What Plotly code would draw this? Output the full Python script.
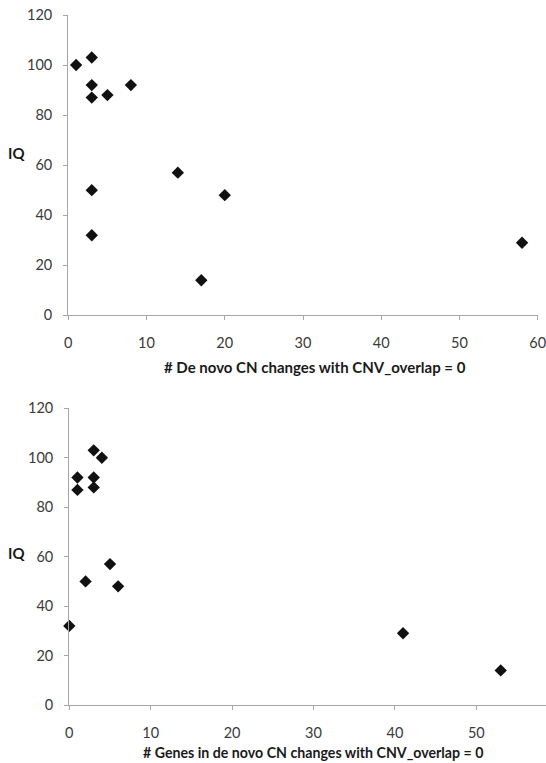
import plotly.graph_objects as go

# IQ versus de novo copy-number change counts
cn_changes = [1, 3, 3, 3, 5, 8, 3, 3, 14, 20, 17, 58]
iq_top = [100, 103, 92, 87, 88, 92, 50, 32, 57, 48, 14, 29]

genes_in_changes = [0, 1, 1, 3, 3, 3, 4, 2, 5, 6, 41, 53]
iq_bottom = [32, 92, 87, 103, 92, 88, 100, 50, 57, 48, 29, 14]

y_ticks = [0, 20, 40, 60, 80, 100, 120]
x_ticks = [0, 10, 20, 30, 40, 50, 60]

W, H = 546, 763
AXIS_GREY = "#a6a6a6"
TEXT_GREY = "#3a3a3a"
FONT = "Lato, Liberation Sans, sans-serif"

marker = dict(symbol="diamond", size=9.5, color="#111111", line=dict(width=0))

fig = go.Figure()
fig.add_trace(go.Scatter(x=cn_changes, y=iq_top, mode="markers", marker=marker,
                         cliponaxis=False, xaxis="x", yaxis="y", showlegend=False))
fig.add_trace(go.Scatter(x=genes_in_changes, y=iq_bottom, mode="markers", marker=marker,
                         cliponaxis=False, xaxis="x2", yaxis="y2", showlegend=False))

def px_x(p):
    return p / W

def px_y(p):
    return 1 - p / H

axis_common = dict(
    showgrid=False, zeroline=False, showline=True, linecolor=AXIS_GREY, linewidth=1.3,
    ticks="outside", tickcolor=AXIS_GREY, tickwidth=1, ticklen=4, automargin=False,
    ticklabeloverflow="allow",
    tickfont=dict(family=FONT, size=14.5, color=TEXT_GREY),
)

fig.update_layout(
    template="none",
    width=W, height=H, margin=dict(l=0, r=0, t=0, b=0, pad=0),
    paper_bgcolor="white", plot_bgcolor="white",
    xaxis=dict(domain=[px_x(68.3), px_x(537.7)], range=[0, 60], tickvals=x_ticks,
               anchor="y", ticklabelstandoff=10, **axis_common),
    yaxis=dict(domain=[px_y(315.3), px_y(15)], range=[0, 120], tickvals=y_ticks,
               anchor="x", ticklabelstandoff=8, **axis_common),
    xaxis2=dict(domain=[px_x(69.3), 1.0], range=[0, (W - 69.3) / 8.14], tickvals=x_ticks[:-1],
                anchor="y2", ticklabelstandoff=10, **axis_common),
    yaxis2=dict(domain=[px_y(705), px_y(408.3)], range=[0, 120], tickvals=y_ticks,
                anchor="x2", ticklabelstandoff=8, **axis_common),
)

def label(text, x, y, size=15):
    return dict(text=text, x=px_x(x), y=px_y(y), xref="paper", yref="paper",
                xanchor="center", yanchor="middle", showarrow=False,
                font=dict(family=FONT, size=size, color="#1a1a1a"))

fig.update_layout(annotations=[
    label("<b>IQ</b>", 16, 153),
    label("<b>IQ</b>", 16, 553),
    label("<b># De novo CN changes with CNV_overlap = 0</b>", 315, 367),
    label("<b># Genes in de novo CN changes with CNV_overlap = 0</b>", 313, 752, size=14.2),
])

fig.write_html("out.html")
